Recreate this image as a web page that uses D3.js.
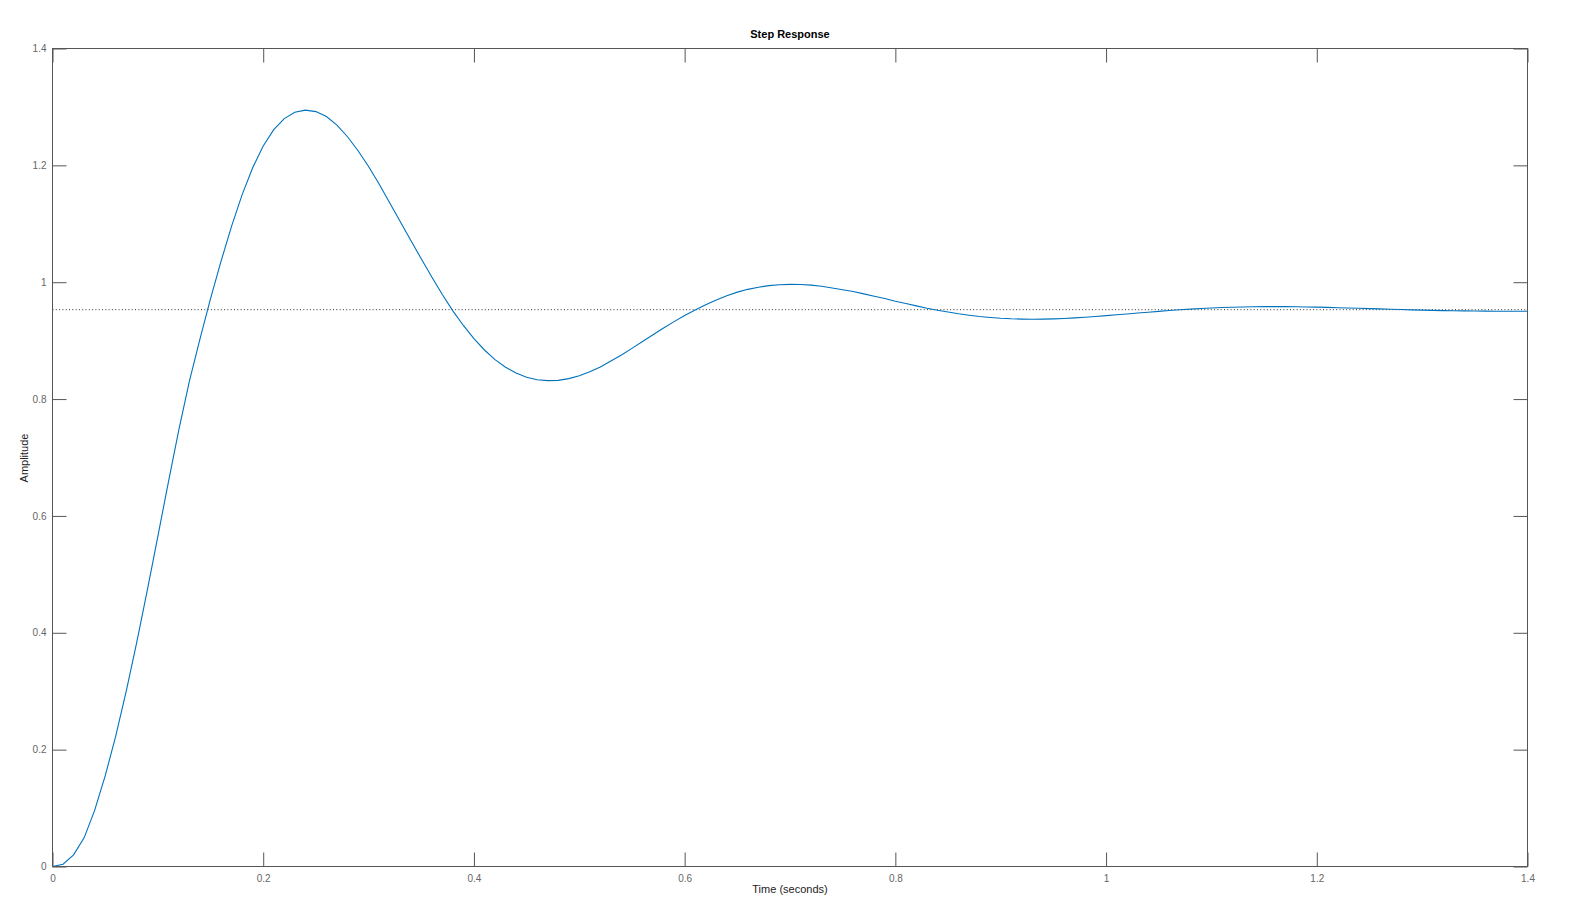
<!DOCTYPE html>
<html>
<head>
<meta charset="utf-8">
<script src="https://cdn.jsdelivr.net/npm/d3@7"></script>
<style>
  html, body { margin: 0; padding: 0; background: #fff; }
  svg { display: block; font-family: Helvetica, Arial, "Liberation Sans", sans-serif; }
  .tick text { fill: #666; font-size: 10px; }
  .tick line { stroke: #555; }
</style>
</head>
<body>
<svg id="chart" width="1574" height="902"></svg>
<script>
'use strict';

// sample times, step 0.01 s
const timeStep = 0.01;
// amplitude, one value per sample (t = 0 .. 1.4)
const amplitude = [
  0, 0.004, 0.020, 0.049, 0.096, 0.155, 0.223, 0.300, 0.384, 0.473,
  0.565, 0.658, 0.748, 0.831, 0.903, 0.972, 1.036, 1.096, 1.150, 1.196,
  1.233, 1.261, 1.280, 1.291, 1.2945, 1.292, 1.2835, 1.269, 1.249, 1.225,
  1.198, 1.168, 1.136, 1.104, 1.072, 1.040, 1.009, 0.979, 0.951, 0.926,
  0.9035, 0.884, 0.8675, 0.8545, 0.8445, 0.8375, 0.8332, 0.8315, 0.832, 0.835,
  0.8398, 0.8468, 0.855, 0.865, 0.8755, 0.8868, 0.8984, 0.910, 0.9215, 0.9325,
  0.943, 0.9526, 0.9614, 0.9697, 0.977, 0.983, 0.9878, 0.9915, 0.9941, 0.9957,
  0.9963, 0.996, 0.995, 0.993, 0.990, 0.987, 0.984, 0.980, 0.976, 0.972,
  0.9675, 0.9635, 0.9595, 0.9555, 0.952, 0.949, 0.946, 0.9435, 0.9413, 0.9396,
  0.9383, 0.9374, 0.9369, 0.9367, 0.9368, 0.9372, 0.938, 0.939, 0.9401, 0.9414,
  0.9428, 0.9442, 0.9457, 0.9472, 0.9487, 0.9501, 0.9515, 0.9528, 0.954, 0.955,
  0.9559, 0.9566, 0.9572, 0.9577, 0.958, 0.9582, 0.9583, 0.9582, 0.958, 0.9577,
  0.9573, 0.9569, 0.9564, 0.9559, 0.9554, 0.9548, 0.9543, 0.9537, 0.9532, 0.9527,
  0.9522, 0.9518, 0.9514, 0.9511, 0.9509, 0.9507, 0.9505, 0.9504, 0.9503, 0.9503,
  0.9503
];
const steadyState = 0.953;
const xTicks = [0, 0.2, 0.4, 0.6, 0.8, 1, 1.2, 1.4];
const yTicks = [0, 0.2, 0.4, 0.6, 0.8, 1, 1.2, 1.4];

const svg = d3.select('#chart');
const box = { left: 52.5, right: 1527.5, top: 48.5, bottom: 866.5 };
const tickLen = 14;

const x = d3.scaleLinear().domain([0, 1.4]).range([box.left, box.right]);
const y = d3.scaleLinear().domain([0, 1.4]).range([box.bottom, box.top]);

const data = amplitude.map(function(v, i) {
  return { t: i * timeStep, v: v };
});

// steady state reference line
svg.append('line')
  .attr('x1', x(0))
  .attr('x2', x(1.4))
  .attr('y1', y(steadyState))
  .attr('y2', y(steadyState))
  .attr('stroke', '#333')
  .attr('stroke-width', 1)
  .attr('stroke-dasharray', '1,2.3');

// response curve
const line = d3.line()
  .x(function(d) { return x(d.t); })
  .y(function(d) { return y(d.v); });

svg.append('path')
  .datum(data)
  .attr('fill', 'none')
  .attr('stroke', '#0072BD')
  .attr('stroke-width', 1.1)
  .attr('d', line);

// axes, ticks point inward
function fmt(d) { return d3.format('~g')(d); }

svg.append('g')
  .attr('transform', 'translate(0,' + box.bottom + ')')
  .call(d3.axisBottom(x).tickValues(xTicks).tickFormat(fmt).tickSize(-tickLen).tickPadding(8))
  .call(function(g) { g.select('.domain').remove(); });

svg.append('g')
  .attr('transform', 'translate(0,' + box.top + ')')
  .call(d3.axisTop(x).tickValues(xTicks).tickFormat('').tickSize(-tickLen))
  .call(function(g) { g.select('.domain').remove(); });

svg.append('g')
  .attr('transform', 'translate(' + box.left + ',0)')
  .call(d3.axisLeft(y).tickValues(yTicks).tickFormat(fmt).tickSize(-tickLen).tickPadding(6))
  .call(function(g) { g.select('.domain').remove(); });

svg.append('g')
  .attr('transform', 'translate(' + box.right + ',0)')
  .call(d3.axisRight(y).tickValues(yTicks).tickFormat('').tickSize(-tickLen))
  .call(function(g) { g.select('.domain').remove(); });

svg.selectAll('.tick text').attr('font-family', null).attr('font-size', null);

// frame
svg.append('rect')
  .attr('x', box.left)
  .attr('y', box.top)
  .attr('width', box.right - box.left)
  .attr('height', box.bottom - box.top)
  .attr('fill', 'none')
  .attr('stroke', '#555')
  .attr('stroke-width', 1);

// texts
svg.append('text')
  .attr('x', (box.left + box.right) / 2)
  .attr('y', 37.5)
  .attr('text-anchor', 'middle')
  .attr('font-size', 11)
  .attr('font-weight', 'bold')
  .attr('fill', '#000')
  .text('Step Response');

svg.append('text')
  .attr('x', (box.left + box.right) / 2)
  .attr('y', 893)
  .attr('text-anchor', 'middle')
  .attr('font-size', 11)
  .attr('fill', '#222')
  .text('Time (seconds)');

svg.append('text')
  .attr('transform', 'translate(28,458) rotate(-90)')
  .attr('text-anchor', 'middle')
  .attr('font-size', 11)
  .attr('fill', '#222')
  .text('Amplitude');
</script>
</body>
</html>
